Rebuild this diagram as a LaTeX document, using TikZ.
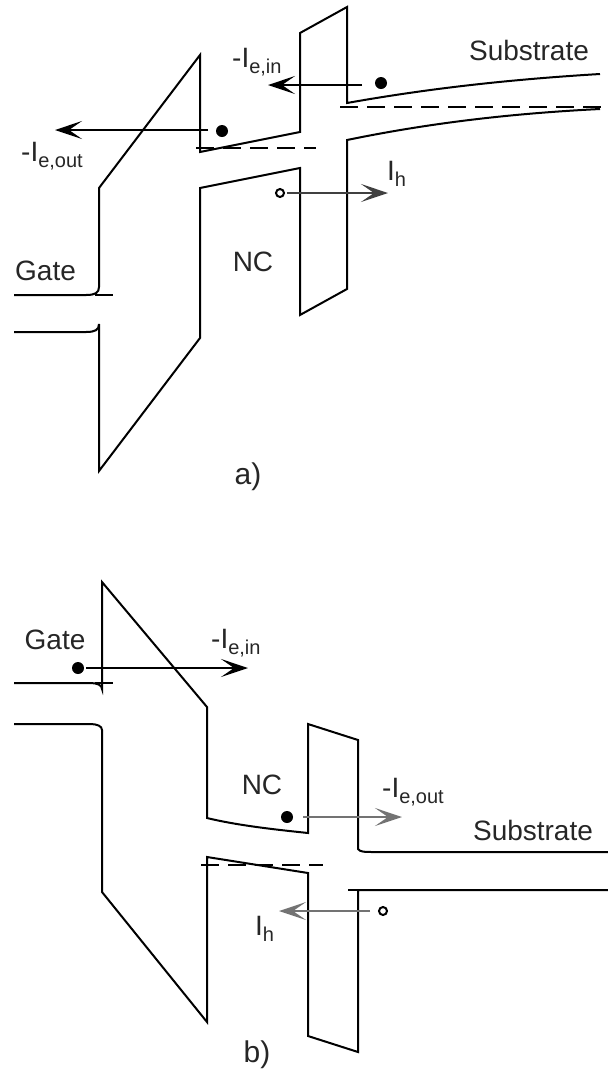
\documentclass[tikz,border=0pt]{standalone}
\usepackage{fontspec}
\setmainfont{Liberation Sans}
\usetikzlibrary{arrows.meta}
\newcommand\curlabel[2]{{\fontsize{28}{28}\selectfont #1}\raisebox{-6pt}{\fontsize{20}{20}\selectfont #2}}
\begin{document}
\begin{tikzpicture}[x=1pt,y=-1pt,
  band/.style={line width=2pt, line join=miter},
  fermi/.style={line width=2pt, dash pattern=on 18pt off 9pt},
  elec/.style={circle, fill=black, inner sep=0pt, minimum size=12pt},
  hole/.style={circle, draw=black, line width=2pt, inner sep=0pt, minimum size=8pt},
  curarr/.style={line width=2pt, -{Stealth[length=27pt,width=18pt,inset=13pt]}},
  grayarr/.style={curarr, draw=black!55, color=black!55},
  lbl/.style={font=\fontsize{28}{28}\selectfont, inner sep=0pt, text=black!85},
]
\useasboundingbox (0,0) rectangle (608,1072);

% ================= panel a) =================
% conduction band edges
\draw[band] (14,295) -- (86,295) .. controls (95,295) and (99,293) .. (99,287)
  -- (99,188) -- (200,55) -- (200,152) -- (300,132) -- (300,33) -- (347,7) -- (347,103)
  .. controls (420,90) and (500,80) .. (600,74);
% valence band edges
\draw[band] (14,332) -- (86,332) .. controls (95,332) and (99,330) .. (99,324)
  -- (99,471) -- (200,338) -- (200,188) -- (300,168) -- (300,315) -- (347,289) -- (347,140)
  .. controls (420,125) and (500,114) .. (600,109);
% Fermi levels
\draw[fermi] (14,295) -- (118,295);
\draw[fermi] (196,148) -- (316,148);
\draw[fermi] (340,107) -- (602,107);

% carriers
\node[elec] (ea1) at (381,83) {};
\node[elec] (ea2) at (222,131) {};
\node[hole] (ha1) at (280,193) {};
\coordinate (ain0) at (362,85);  \coordinate (ain1) at (268,85);
\coordinate (aout0) at (208,130); \coordinate (aout1) at (55,130);
\coordinate (ah0) at (287,193);  \coordinate (ah1) at (388,193);
\draw[curarr] (ain0) -- (ain1);
\draw[curarr] (aout0) -- (aout1);
\draw[curarr, draw=black!75, color=black!75] (ah0) -- (ah1);

% labels
\node[lbl, anchor=center] (subA) at (529,50) {Substrate};
\node[lbl, anchor=base west] (ainL) at (232,67) {\curlabel{-I}{e,in}};
\node[lbl, anchor=base west] (aoutL) at (21,161) {\curlabel{-I}{e,out}};
\node[lbl, anchor=base west] (ahL) at (387,180) {\curlabel{I}{h}};
\node[lbl, anchor=base west] (gateA) at (15,280) {Gate};
\node[lbl, anchor=center] (ncA) at (253,262) {NC};
\node[lbl, anchor=center, font=\fontsize{30}{30}\selectfont] (capA) at (248,477) {a)};

% ================= panel b) =================
% conduction band edges
\draw[band] (14,683) -- (90,683) .. controls (97,683) and (102,685) .. (102,689)
  -- (102,582) -- (207,707) -- (207,818)
  .. controls (240,826) and (280,830) .. (308,833)
  -- (308,724) -- (358,740) -- (358,849)
  .. controls (360,852) and (365,852) .. (372,852) -- (608,852);
% valence band edges
\draw[band] (14,724) -- (90,724) .. controls (97,724) and (102,726) .. (102,730)
  -- (102,892) -- (207,1022) -- (207,857) -- (308,873) -- (308,1036) -- (358,1052)
  -- (358,890) -- (608,890);
% Fermi levels
\draw[fermi] (14,683) -- (118,683);
\draw[fermi] (201,865) -- (323,865);
\draw[fermi] (348,890) -- (608,890);

% carriers
\node[elec] (eb1) at (78,668) {};
\node[elec] (eb2) at (287,817) {};
\node[hole] (hb1) at (383,911) {};
\coordinate (bin0) at (86,668);  \coordinate (bin1) at (248,668);
\coordinate (bout0) at (303,817); \coordinate (bout1) at (402,817);
\coordinate (bh0) at (370,911);  \coordinate (bh1) at (279,911);
\draw[curarr] (bin0) -- (bin1);
\draw[grayarr] (bout0) -- (bout1);
\draw[grayarr] (bh0) -- (bh1);

% labels
\node[lbl, anchor=center] (gateB) at (55,640) {Gate};
\node[lbl, anchor=base west] (binL) at (211,648) {\curlabel{-I}{e,in}};
\node[lbl, anchor=center] (ncB) at (262,785) {NC};
\node[lbl, anchor=base west] (boutL) at (382,797) {\curlabel{-I}{e,out}};
\node[lbl, anchor=center] (subB) at (533,830) {Substrate};
\node[lbl, anchor=base west] (bhL) at (255,935) {\curlabel{I}{h}};
\node[lbl, anchor=center, font=\fontsize{30}{30}\selectfont] (capB) at (257,1055) {b)};
\end{tikzpicture}
\end{document}
